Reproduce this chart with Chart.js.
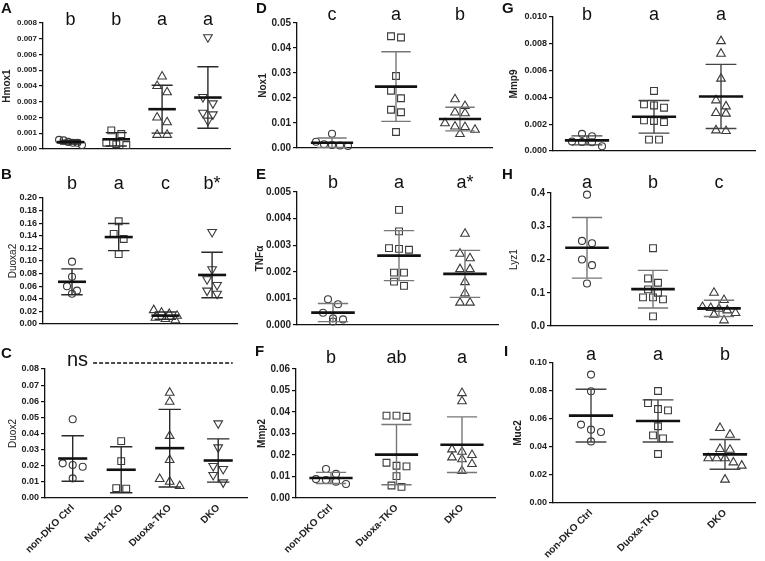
<!DOCTYPE html>
<html>
<head>
<meta charset="utf-8">
<script src="https://cdn.jsdelivr.net/npm/chart.js@4.4.1/dist/chart.umd.min.js"></script>
<style>
  body { margin: 0; background: #fff; }
  #wrap { position: relative; width: 765px; height: 561px; overflow: hidden; font-family: "Liberation Sans", Arial, sans-serif; }
  canvas { position: absolute; }
  .pl { position: absolute; font-weight: bold; font-size: 15px; line-height: 15px; color: #111; }
</style>
</head>
<body>
<div id="wrap"></div>
<script>
// group names
const groups4 = ['non-DKO Ctrl', 'Nox1-TKO', 'Duoxa-TKO', 'DKO'];
const groups3 = ['non-DKO Ctrl', 'Duoxa-TKO', 'DKO'];

// A - Hmox1
const hmox1 = [
  [0.00058, 0.00055, 0.00045, 0.00040, 0.00040, 0.00025],
  [0.00118, 0.00095, 0.00040, 0.00030, 0.00025],
  [0.0046, 0.0040, 0.0036, 0.0020, 0.0017, 0.0009, 0.0009],
  [0.0071, 0.0033, 0.0029, 0.0023, 0.0022, 0.0018]
];
const hmox1Letters = ['b', 'b', 'a', 'a'];
const hmox1Ticks = [0, 0.001, 0.002, 0.003, 0.004, 0.005, 0.006, 0.007, 0.008];

// B - Duoxa2
const duoxa2 = [
  [0.099, 0.075, 0.060, 0.053, 0.048],
  [0.163, 0.143, 0.135, 0.111],
  [0.022, 0.018, 0.016, 0.013, 0.010, 0.008, 0.006],
  [0.146, 0.087, 0.071, 0.062, 0.053, 0.048]
];
const duoxa2Letters = ['b', 'a', 'c', 'b*'];
const duoxa2Ticks = [0, 0.02, 0.04, 0.06, 0.08, 0.10, 0.12, 0.14, 0.16, 0.18, 0.20];

// C - Duox2
const duox2 = [
  [0.0488, 0.0215, 0.0205, 0.0194, 0.0122],
  [0.0353, 0.0229, 0.0061, 0.0058],
  [0.0653, 0.0597, 0.0385, 0.0236, 0.0118, 0.0101, 0.0074],
  [0.0463, 0.0314, 0.0198, 0.0180, 0.0143, 0.0097]
];
const duox2Ticks = [0, 0.01, 0.02, 0.03, 0.04, 0.05, 0.06, 0.07, 0.08];

// D - Nox1
const nox1 = [
  [0.0057, 0.0025, 0.0015, 0.0012, 0.0010, 0.0008],
  [0.0447, 0.0442, 0.0288, 0.0229, 0.0199, 0.0153, 0.0143, 0.0064],
  [0.0195, 0.0168, 0.0142, 0.0139, 0.0099, 0.0086, 0.0084, 0.0073, 0.0056]
];
const nox1Letters = ['c', 'a', 'b'];
const nox1Ticks = [0, 0.01, 0.02, 0.03, 0.04, 0.05];

// E - TNFa
const tnfa = [
  [0.00097, 0.00078, 0.00046, 0.00025, 0.00021, 0.00013],
  [0.00433, 0.00352, 0.00289, 0.00286, 0.00283, 0.00197, 0.00197, 0.00163, 0.00147],
  [0.00343, 0.00268, 0.00251, 0.00210, 0.00210, 0.00161, 0.00119, 0.00084, 0.00084]
];
const tnfaLetters = ['b', 'a', 'a*'];
const tnfaTicks = [0, 0.001, 0.002, 0.003, 0.004, 0.005];

// F - Mmp2
const mmp2 = [
  [0.0135, 0.0112, 0.0088, 0.0084, 0.0076, 0.0065],
  [0.0383, 0.0383, 0.0378, 0.0164, 0.0150, 0.0147, 0.0102, 0.0058, 0.0052],
  [0.0488, 0.0450, 0.0226, 0.0215, 0.0200, 0.0189, 0.0180, 0.0158, 0.0126]
];
const mmp2Letters = ['b', 'ab', 'a'];
const mmp2Ticks = [0, 0.01, 0.02, 0.03, 0.04, 0.05, 0.06];

// G - Mmp9
const mmp9 = [
  [0.00128, 0.00110, 0.00070, 0.00067, 0.00065, 0.00035],
  [0.00448, 0.00348, 0.00340, 0.00323, 0.00229, 0.00224, 0.00216, 0.00085, 0.00085],
  [0.00820, 0.00726, 0.00540, 0.00378, 0.00333, 0.00284, 0.00279, 0.00154, 0.00149]
];
const mmp9Letters = ['b', 'a', 'a'];
const mmp9Ticks = [0, 0.002, 0.004, 0.006, 0.008, 0.010];

// H - Lyz1
const lyz1 = [
  [0.395, 0.256, 0.249, 0.200, 0.183, 0.128],
  [0.234, 0.143, 0.130, 0.110, 0.100, 0.086, 0.086, 0.080, 0.029],
  [0.100, 0.078, 0.057, 0.054, 0.052, 0.047, 0.039, 0.034, 0.017]
];
const lyz1Letters = ['a', 'b', 'c'];
const lyz1Ticks = [0, 0.1, 0.2, 0.3, 0.4];

// I - Muc2
const muc2 = [
  [0.0917, 0.0798, 0.0560, 0.0524, 0.0507, 0.0440],
  [0.0800, 0.0714, 0.0671, 0.0662, 0.0548, 0.0483, 0.0462, 0.0350],
  [0.0536, 0.0488, 0.0386, 0.0380, 0.0320, 0.0320, 0.0320, 0.0290, 0.0267, 0.0167]
];
const muc2Letters = ['a', 'a', 'b'];
const muc2Ticks = [0, 0.02, 0.04, 0.06, 0.08, 0.10];

// layout
const colX = [0, 254, 508], colW = [254, 254, 257];
const rowY = [0, 160, 340], rowH = [160, 180, 221];
const FONT = '"Liberation Sans", Arial, sans-serif';

const panels = [
  {tag: 'A', c: 0, r: 0, plot: [43, 23, 230, 149], c0: 70.5, sp: 45.8, data: hmox1, ticks: hmox1Ticks, dec: 3, tf: 8, title: 'Hmox1', bold: true, tpad: 1, letters: hmox1Letters, ly: 25, err: '#2a2a2a', mw: 0.6, names: groups4, xlab: false, tagPos: [1, 0]},
  {tag: 'B', c: 0, r: 1, plot: [43, 198, 237, 324], c0: 72, sp: 46.7, data: duoxa2, ticks: duoxa2Ticks, dec: 2, tf: 9, title: 'Duoxa2', bold: false, tpad: 7, letters: duoxa2Letters, ly: 189, err: '#2a2a2a', mw: 0.6, names: groups4, xlab: false, tagPos: [1, 166]},
  {tag: 'C', c: 0, r: 2, plot: [45, 369, 247, 498], c0: 72.7, sp: 48.5, data: duox2, ticks: duox2Ticks, dec: 2, tf: 9, title: 'Duox2', bold: false, tpad: 7, letters: null, ly: 366, err: '#2a2a2a', mw: 0.6, names: groups4, xlab: true, ns: true, tagPos: [1, 345]},
  {tag: 'D', c: 1, r: 0, plot: [297, 23, 492, 148], c0: 332, sp: 64, data: nox1, ticks: nox1Ticks, dec: 2, tf: 10, title: 'Nox1', bold: true, tpad: 3, letters: nox1Letters, ly: 20, err: '#777', mw: 0.66, names: groups3, xlab: false, tagPos: [256, 0]},
  {tag: 'E', c: 1, r: 1, plot: [297, 192, 498, 325], c0: 333, sp: 66, data: tnfa, ticks: tnfaTicks, dec: 3, tf: 10, title: 'TNFα', bold: true, tpad: 0, letters: tnfaLetters, ly: 188, err: '#777', mw: 0.66, names: groups3, xlab: false, tagPos: [256, 166]},
  {tag: 'F', c: 1, r: 2, plot: [296, 369, 495, 498], c0: 331, sp: 65.5, data: mmp2, ticks: mmp2Ticks, dec: 2, tf: 10, title: 'Mmp2', bold: true, tpad: 2, letters: mmp2Letters, ly: 363, err: '#777', mw: 0.66, names: groups3, xlab: true, tagPos: [255, 343]},
  {tag: 'G', c: 2, r: 0, plot: [553, 17, 755, 151], c0: 587, sp: 67, data: mmp9, ticks: mmp9Ticks, dec: 3, tf: 9, title: 'Mmp9', bold: true, tpad: 0, letters: mmp9Letters, ly: 20, err: '#444', mw: 0.66, names: groups3, xlab: false, tagPos: [502, 0]},
  {tag: 'H', c: 2, r: 1, plot: [551, 193, 752, 326], c0: 587, sp: 66, data: lyz1, ticks: lyz1Ticks, dec: 1, tf: 10, title: 'Lyz1', bold: false, tpad: 0, letters: lyz1Letters, ly: 188, err: '#777', mw: 0.66, names: groups3, xlab: false, tagPos: [502, 166]},
  {tag: 'I', c: 2, r: 2, plot: [553, 363, 755, 503], c0: 591, sp: 67, data: muc2, ticks: muc2Ticks, dec: 2, tf: 9, title: 'Muc2', bold: true, tpad: 4, letters: muc2Letters, ly: 360, err: '#444', mw: 0.66, names: groups3, xlab: true, tagPos: [504, 343]}
];

const mean = a => a.reduce((s, v) => s + v, 0) / a.length;
const sd = a => { const m = mean(a); return Math.sqrt(a.reduce((s, v) => s + (v - m) * (v - m), 0) / (a.length - 1)); };

// Prism-like column scatter: points with close values spread sideways (px)
function swarm(vals, pxPerVal, maxW) {
  const idx = vals.map((v, i) => i).sort((a, b) => vals[b] - vals[a]);
  const off = vals.map(() => 0);
  let row = [];
  const flush = () => {
    const n = row.length;
    const st = n > 1 ? Math.min(10, maxW / (n - 1)) : 0;
    row.forEach((k, j) => { off[k] = (j - (n - 1) / 2) * st; });
    row = [];
  };
  idx.forEach(k => {
    if (row.length && (vals[row[0]] - vals[k]) * pxPerVal > 7.5) flush();
    row.push(k);
  });
  flush();
  return off;
}

function overlay(p) {
  return {
    id: 'overlay' + p.tag,
    afterDatasetsDraw(chart) {
      const {ctx, scales: {x, y}} = chart;
      ctx.save();
      p.data.forEach((vals, g) => {
        const m = mean(vals), s = sd(vals);
        const cx = x.getPixelForValue(g);
        const capL = x.getPixelForValue(g - 0.23), capR = x.getPixelForValue(g + 0.23);
        const mL = x.getPixelForValue(g - p.mw / 2), mR = x.getPixelForValue(g + p.mw / 2);
        const yt = y.getPixelForValue(m + s), yb = y.getPixelForValue(Math.max(m - s, 0)), ym = y.getPixelForValue(m);
        ctx.strokeStyle = p.err;
        ctx.lineWidth = 1.4;
        ctx.beginPath();
        ctx.moveTo(cx, yt); ctx.lineTo(cx, yb);
        ctx.moveTo(capL, yt); ctx.lineTo(capR, yt);
        ctx.moveTo(capL, yb); ctx.lineTo(capR, yb);
        ctx.stroke();
        ctx.strokeStyle = '#111';
        ctx.lineWidth = 2.6;
        ctx.beginPath();
        ctx.moveTo(mL, ym); ctx.lineTo(mR, ym);
        ctx.stroke();
      });
      ctx.restore();
    },
    afterDraw(chart) {
      const {ctx, scales: {x}} = chart;
      const top = rowY[p.r];
      ctx.save();
      ctx.fillStyle = '#111';
      ctx.textAlign = 'center';
      ctx.textBaseline = 'alphabetic';
      if (p.letters) {
        ctx.font = '18px ' + FONT;
        p.letters.forEach((t, g) => ctx.fillText(t, x.getPixelForValue(g), p.ly - top));
      }
      if (p.ns) {
        ctx.font = '20px ' + FONT;
        ctx.fillText('ns', x.getPixelForValue(0.1), p.ly - top);
        ctx.strokeStyle = '#111';
        ctx.lineWidth = 1.6;
        ctx.setLineDash([4, 2]);
        ctx.beginPath();
        ctx.moveTo(x.getPixelForValue(0.42), p.ly - top - 3);
        ctx.lineTo(x.getPixelForValue(3.3), p.ly - top - 3);
        ctx.stroke();
      }
      ctx.restore();
    }
  };
}

const wrap = document.getElementById('wrap');
panels.forEach(p => {
  const L = document.createElement('div');
  L.className = 'pl';
  L.textContent = p.tag;
  L.style.left = p.tagPos[0] + 'px';
  L.style.top = p.tagPos[1] + 'px';

  const cv = document.createElement('canvas');
  const cx0 = colX[p.c], cy0 = rowY[p.r], cw = colW[p.c], ch = rowH[p.r];
  cv.width = cw; cv.height = ch;
  cv.style.left = cx0 + 'px'; cv.style.top = cy0 + 'px';
  wrap.appendChild(cv);
  wrap.appendChild(L);

  const [left, top, right, bottom] = p.plot;
  const ymax = p.ticks[p.ticks.length - 1];
  const pxPerVal = (bottom - top) / ymax;
  const styles = p.data.length === 4 ? ['circle', 'rect', 'triangle', 'triangle'] : ['circle', 'rect', 'triangle'];
  const rot = p.data.length === 4 ? [0, 0, 0, 180] : [0, 0, 0];
  const rad = {circle: 3.5, rect: 4.8, triangle: 5};

  const datasets = p.data.map((vals, g) => {
    const off = swarm(vals, pxPerVal, p.sp * 0.5);
    return {
      data: vals.map((v, i) => ({x: g + off[i] / p.sp, y: v})),
      pointStyle: styles[g],
      rotation: rot[g],
      radius: rad[styles[g]],
      borderColor: '#3a3a3a',
      borderWidth: 1.1,
      backgroundColor: 'rgba(0,0,0,0)',
      clip: false
    };
  });

  new Chart(cv, {
    type: 'scatter',
    data: {datasets},
    options: {
      responsive: false,
      animation: false,
      events: [],
      layout: {padding: {left: 0, top: top - cy0, right: cx0 + cw - right, bottom: 0}},
      plugins: {legend: {display: false}, tooltip: {enabled: false}},
      scales: {
        x: {
          type: 'linear',
          min: (left - p.c0) / p.sp,
          max: (right - p.c0) / p.sp,
          afterBuildTicks: s => { s.ticks = p.names.map((n, i) => ({value: i})); },
          afterFit: s => { s.height = cy0 + ch - bottom; },
          grid: {display: false, drawTicks: false},
          border: {display: true, color: '#111', width: 1.3},
          ticks: {
            display: p.xlab,
            autoSkip: false,
            minRotation: 45,
            maxRotation: 45,
            padding: 4,
            color: '#222',
            font: {family: FONT, size: 10, weight: 'bold'},
            callback: v => p.names[Math.round(v)]
          }
        },
        y: {
          min: 0,
          max: ymax,
          afterBuildTicks: s => { s.ticks = p.ticks.map(v => ({value: v})); },
          afterFit: s => { s.width = left - cx0; },
          grid: {drawOnChartArea: false, drawTicks: true, tickLength: 4, color: '#111', lineWidth: 1.2},
          border: {display: true, color: '#111', width: 1.3},
          ticks: {
            autoSkip: false,
            padding: 2,
            color: '#222',
            font: {family: FONT, size: p.tf, weight: 'bold'},
            callback: v => Number(v).toFixed(p.dec)
          },
          title: {
            display: true,
            text: p.title,
            color: '#222',
            padding: {top: p.tpad, bottom: 0},
            font: {family: FONT, size: 10, weight: p.bold ? 'bold' : 'normal'}
          }
        }
      }
    },
    plugins: [overlay(p)]
  });
});
</script>
</body>
</html>
